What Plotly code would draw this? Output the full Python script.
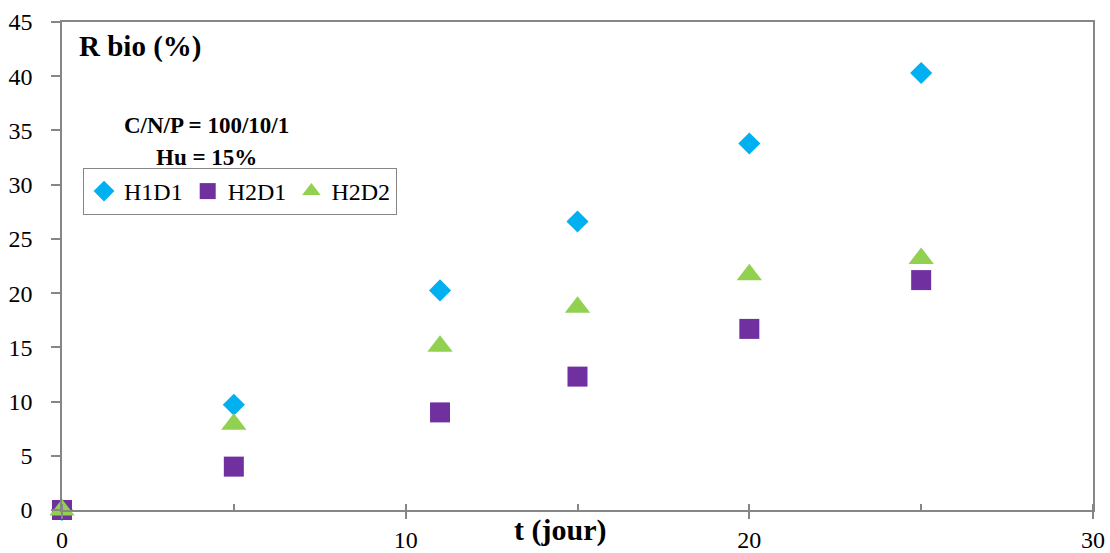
import plotly.graph_objects as go

t_days = [0, 5, 11, 15, 20, 25]
h1d1 = [0, 9.7, 20.25, 26.6, 33.8, 40.3]
h2d1 = [0, 4.0, 9.0, 12.3, 16.7, 21.2]
h2d2 = [0, 7.9, 15.1, 18.7, 21.7, 23.2]

x_ticks = [0, 10, 20, 30]
y_ticks = [0, 5, 10, 15, 20, 25, 30, 35, 40, 45]

FONT = "Times New Roman"
AX = "#868686"

fig = go.Figure()
fig.add_trace(go.Scatter(x=t_days, y=h1d1, mode="markers", name="H1D1",
                         marker=dict(symbol="diamond", size=17, color="#00B0F0"),
                         cliponaxis=False))
fig.add_trace(go.Scatter(x=t_days, y=h2d1, mode="markers", name="H2D1",
                         marker=dict(symbol="square", size=20, color="#7030A0"),
                         cliponaxis=False))
fig.add_trace(go.Scatter(x=t_days, y=h2d2, mode="markers", name="H2D2",
                         marker=dict(symbol="triangle-up", size=22, color="#92D050"),
                         cliponaxis=False))
# invisible trace to host the overlay axis (crossing major ticks)
fig.add_trace(go.Scatter(x=[None], y=[None], xaxis="x2", showlegend=False, hoverinfo="skip"))

fig.update_layout(
    width=1110, height=553,
    margin=dict(l=62, r=17, t=22, b=43, autoexpand=False),
    paper_bgcolor="white", plot_bgcolor="white",
    font=dict(family=FONT, size=24, color="black"),
    showlegend=True,
    legend=dict(x=0.0204, y=0.7008, xanchor="left", yanchor="top",
                orientation="h", bordercolor=AX, borderwidth=1,
                bgcolor="white", font=dict(family=FONT, size=24, color="black"),
                itemwidth=30, tracegroupgap=0),
    xaxis=dict(range=[0, 30], tickvals=x_ticks, ticks="outside", ticklen=7,
               tickcolor=AX, tickwidth=1.5, showline=True, linecolor=AX, linewidth=1.5,
               mirror=True, showgrid=False, zeroline=False, automargin=False,
               tickfont=dict(family=FONT, size=24, color="black"),
               ticklabelstandoff=0,
               minor=dict(ticks="inside", ticklen=6, dtick=5, tick0=0,
                          tickcolor=AX, tickwidth=1.5, showgrid=False)),
    xaxis2=dict(range=[0, 30], overlaying="x", anchor="y", side="bottom",
                tickvals=x_ticks, ticks="inside", ticklen=6, tickcolor=AX, tickwidth=1.5,
                showticklabels=False, showline=False, showgrid=False, zeroline=False,
                automargin=False),
    yaxis=dict(range=[0, 45], tickvals=y_ticks, ticks="outside", ticklen=9,
               tickcolor=AX, tickwidth=1.5, showline=True, linecolor=AX, linewidth=1.5,
               mirror=True, showgrid=False, zeroline=False, automargin=False,
               tickfont=dict(family=FONT, size=24, color="black"),
               ticklabelstandoff=14),
)

fig.add_annotation(text="<b>R bio (%)</b>", xref="paper", yref="paper",
                   x=0.0145, y=0.949, xanchor="left", yanchor="middle",
                   showarrow=False, font=dict(family=FONT, size=29, color="black"))
fig.add_annotation(text="<b>C/N/P = 100/10/1</b>", xref="paper", yref="paper",
                   x=0.1397, y=0.787, xanchor="center", yanchor="middle",
                   showarrow=False, font=dict(family=FONT, size=23, color="black"))
fig.add_annotation(text="<b>Hu = 15%</b>", xref="paper", yref="paper",
                   x=0.1397, y=0.723, xanchor="center", yanchor="middle",
                   showarrow=False, font=dict(family=FONT, size=23, color="black"))
fig.add_annotation(text="<b>t (jour)</b>", xref="paper", yref="paper",
                   x=0.483, y=-0.041, xanchor="center", yanchor="middle",
                   showarrow=False, font=dict(family=FONT, size=30, color="black"))

fig.write_html("out.html", config={"displayModeBar": False},
               post_script="document.body.style.margin='0';document.body.style.padding='0';")
